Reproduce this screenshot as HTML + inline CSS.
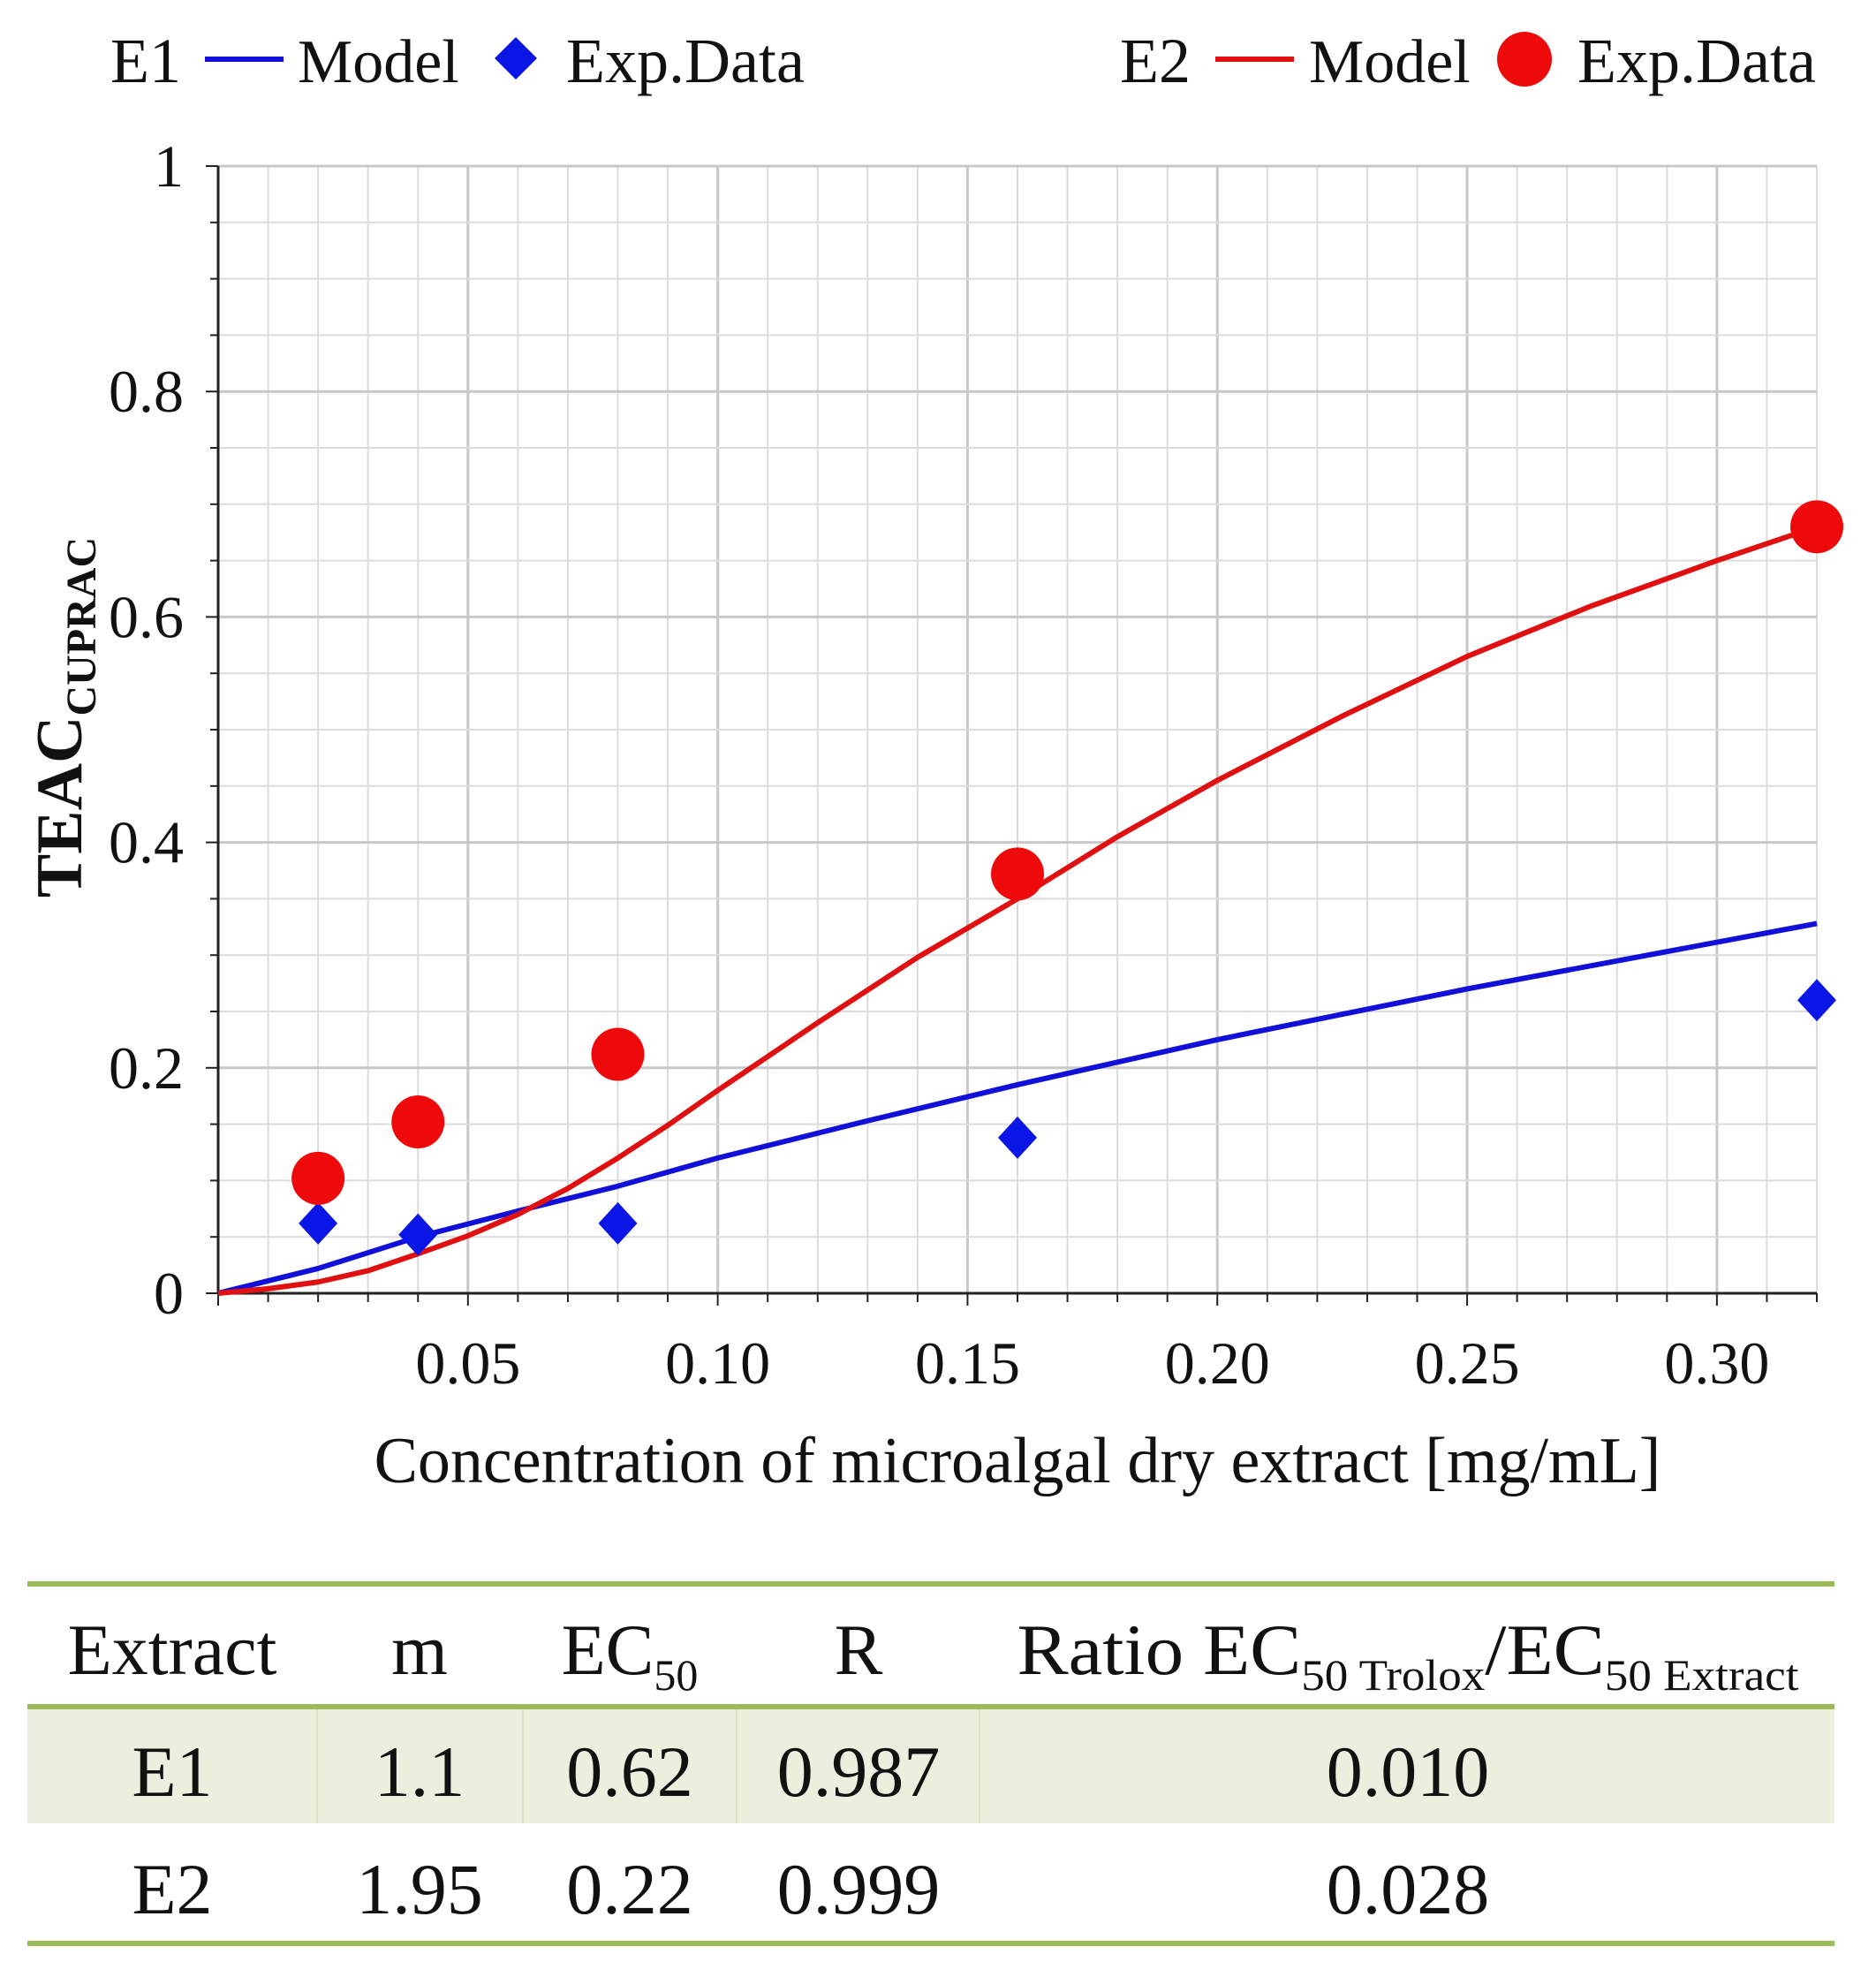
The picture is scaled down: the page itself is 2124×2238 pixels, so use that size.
<!DOCTYPE html>
<html><head><meta charset="utf-8"><style>
html,body{margin:0;padding:0;background:#fff;}
svg{display:block;}
text{font-family:"Liberation Serif",serif;fill:#111;}
</style></head><body>
<svg id="s" width="2124" height="2238" viewBox="0 0 2124 2238" xmlns="http://www.w3.org/2000/svg"></svg>
<script>
const s=document.getElementById('s');let h='';
const X=v=>247+v*5656.25, Y=v=>1464-v*1276;
for(let i=0;i<=32;i++){const x=X(i/100);const maj=i%5==0;
 h+=`<line x1="${x}" y1="188" x2="${x}" y2="1464" stroke="${maj?'#c8c8c8':'#dcdcdc'}" stroke-width="${maj?3:2}"/>`;
 h+=`<line x1="${x}" y1="1464" x2="${x}" y2="${maj?1478:1474}" stroke="#222" stroke-width="2"/>`;}
for(let i=0;i<=20;i++){const y=Y(i/20);const maj=i%4==0;
 h+=`<line x1="247" y1="${y}" x2="2057" y2="${y}" stroke="${maj?'#c8c8c8':'#dcdcdc'}" stroke-width="${maj?3:2}"/>`;
 h+=`<line x1="${maj?233:238}" y1="${y}" x2="247" y2="${y}" stroke="#222" stroke-width="2"/>`;}
h+=`<line x1="247" y1="188" x2="247" y2="1464" stroke="#222" stroke-width="3"/>`;
h+=`<line x1="247" y1="1464" x2="2057" y2="1464" stroke="#222" stroke-width="3"/>`;
[['0',0],['0.2',.2],['0.4',.4],['0.6',.6],['0.8',.8],['1',1]].forEach(([t,v])=>{h+=`<text x="208" y="${Y(v)+23}" font-size="68" text-anchor="end">${t}</text>`;});
['0.05','0.10','0.15','0.20','0.25','0.30'].forEach(t=>{h+=`<text x="${X(+t)}" y="1566" font-size="68" text-anchor="middle">${t}</text>`;});
h+=`<text x="1152" y="1678" font-size="74" text-anchor="middle">Concentration of microalgal dry extract [mg/mL]</text>`;
h+=`<text transform="translate(92,812) rotate(-90)" font-size="74" font-weight="bold" text-anchor="middle">TEAC<tspan font-size="48" dy="16">CUPRAC</tspan></text>`;
const pl=(pts,c)=>`<polyline fill="none" stroke="${c}" stroke-width="6" stroke-linejoin="round" points="${pts.map(p=>X(p[0])+','+Y(p[1])).join(' ')}"/>`;
h+=pl([[0,0],[0.02,0.022],[0.04,0.05],[0.06,0.073],[0.08,0.095],[0.1,0.12],[0.13,0.153],[0.16,0.185],[0.2,0.225],[0.25,0.27],[0.32,0.328]],'#1010d8');
h+=pl([[0,0],[0.01,0.004],[0.02,0.01],[0.03,0.02],[0.04,0.035],[0.05,0.051],[0.06,0.07],[0.07,0.093],[0.08,0.12],[0.09,0.149],[0.1,0.18],[0.12,0.24],[0.14,0.298],[0.16,0.35],[0.18,0.405],[0.2,0.455],[0.225,0.512],[0.25,0.565],[0.275,0.61],[0.3,0.65],[0.32,0.68]],'#e01010');
[[0.02,0.062],[0.04,0.052],[0.08,0.062],[0.16,0.138],[0.32,0.26]].forEach(p=>{const x=X(p[0]),y=Y(p[1]);h+=`<polygon points="${x},${y-24} ${x+22},${y} ${x},${y+24} ${x-22},${y}" fill="#0a16e6"/>`;});
[[0.02,0.102],[0.04,0.152],[0.08,0.212],[0.16,0.372],[0.32,0.68]].forEach(p=>{h+=`<circle cx="${X(p[0])}" cy="${Y(p[1])}" r="30" fill="#ee0a0a"/>`;});
h+=`<text x="125" y="93" font-size="72">E1</text><line x1="232" y1="67" x2="321" y2="67" stroke="#1010d8" stroke-width="6"/><text x="337" y="93" font-size="70">Model</text>`;
h+=`<polygon points="584,42 608,66 584,90 560,66" fill="#0a16e6"/><text x="641" y="93" font-size="72">Exp.Data</text>`;
h+=`<text x="1268" y="93" font-size="72">E2</text><line x1="1376" y1="67" x2="1465" y2="67" stroke="#e01010" stroke-width="6"/><text x="1482" y="93" font-size="70">Model</text>`;
h+=`<circle cx="1726" cy="67" r="31" fill="#ee0a0a"/><text x="1786" y="93" font-size="72">Exp.Data</text>`;
h+=`<rect x="31" y="1934" width="2046" height="130" fill="#eaf0dd"/>`;
[359,592,834,1109].forEach(x=>{h+=`<line x1="${x}" y1="1934" x2="${x}" y2="2064" stroke="#d8e2c4" stroke-width="2"/>`;});
[1793,1932,2200].forEach(y=>{h+=`<rect x="31" y="${y-3}" width="2046" height="6" fill="#9bbb59"/>`;});
const T=(x,y,t)=>`<text x="${x}" y="${y}" font-size="82" text-anchor="middle">${t}</text>`;
h+=T(195,1895,'Extract')+T(475,1895,'m')+`<text x="713" y="1895" font-size="82" text-anchor="middle">EC<tspan font-size="50" dy="18">50</tspan></text>`+T(972,1895,'R');
h+=`<text x="1594" y="1895" font-size="82" text-anchor="middle" textLength="885" lengthAdjust="spacingAndGlyphs">Ratio EC<tspan font-size="50" dy="18">50 Trolox</tspan><tspan dy="-18">/EC</tspan><tspan font-size="50" dy="18">50 Extract</tspan></text>`;
h+=T(195,2033,'E1')+T(475,2033,'1.1')+T(713,2033,'0.62')+T(972,2033,'0.987')+T(1594,2033,'0.010');
h+=T(195,2166,'E2')+T(475,2166,'1.95')+T(713,2166,'0.22')+T(972,2166,'0.999')+T(1594,2166,'0.028');
s.innerHTML=h;
</script>
</body></html>
